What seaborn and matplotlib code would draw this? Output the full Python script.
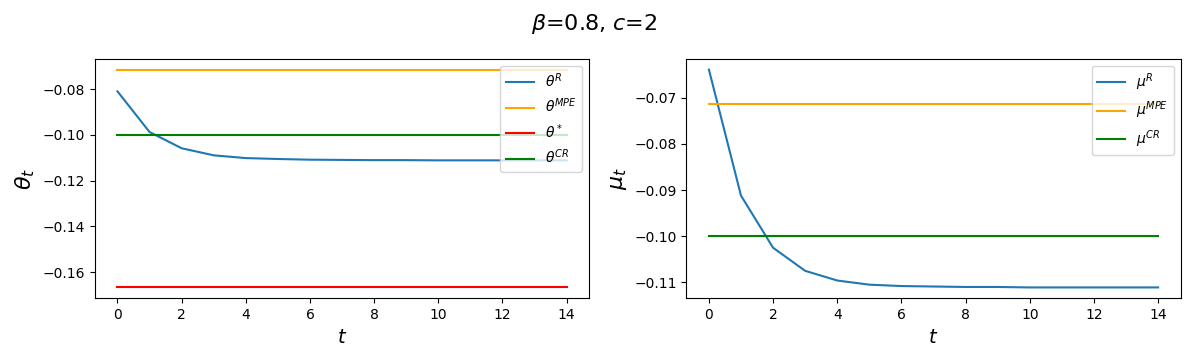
import numpy as np
import pandas as pd
import matplotlib
matplotlib.use("Agg")
import matplotlib.pyplot as plt
import seaborn as sns

t = list(range(15))
theta_R = [-0.0809, -0.0987, -0.1058, -0.1089, -0.1101, -0.1105, -0.1108, -0.1109,
           -0.1110, -0.1110, -0.1111, -0.1111, -0.1111, -0.1111, -0.1111]
theta_MPE = -0.0714
theta_star = -0.1667
theta_CR = -0.1000

mu_R = [-0.0639, -0.0912, -0.1025, -0.1075, -0.1096, -0.1105, -0.1108, -0.1109,
        -0.1110, -0.1110, -0.1111, -0.1111, -0.1111, -0.1111, -0.1111]
mu_MPE = -0.0714
mu_CR = -0.1000

fig, axes = plt.subplots(1, 2, figsize=(11.89, 3.56), dpi=100)

ax = axes[0]
sns.lineplot(x=t, y=theta_R, ax=ax, color="tab:blue", label=r"$\theta^R$")
sns.lineplot(x=t, y=[theta_MPE] * len(t), ax=ax, color="orange", label=r"$\theta^{MPE}$")
sns.lineplot(x=t, y=[theta_star] * len(t), ax=ax, color="red", label=r"$\theta^*$")
sns.lineplot(x=t, y=[theta_CR] * len(t), ax=ax, color="green", label=r"$\theta^{CR}$")
ax.set_xlabel(r"$t$", fontsize=14)
ax.set_ylabel(r"$\theta_t$", fontsize=16)
ax.legend(loc="upper right")

ax = axes[1]
sns.lineplot(x=t, y=mu_R, ax=ax, color="tab:blue", label=r"$\mu^R$")
sns.lineplot(x=t, y=[mu_MPE] * len(t), ax=ax, color="orange", label=r"$\mu^{MPE}$")
sns.lineplot(x=t, y=[mu_CR] * len(t), ax=ax, color="green", label=r"$\mu^{CR}$")
ax.set_xlabel(r"$t$", fontsize=14)
ax.set_ylabel(r"$\mu_t$", fontsize=16)
ax.legend(loc="upper right")

for a in axes:
    a.set_xticks([0, 2, 4, 6, 8, 10, 12, 14])

fig.suptitle(r"$\beta$=0.8, $c$=2", fontsize=16, y=0.965)
fig.subplots_adjust(left=0.0799, right=0.9929, top=0.835, bottom=0.162, wspace=0.197)
fig.savefig("out.png", dpi=100)
